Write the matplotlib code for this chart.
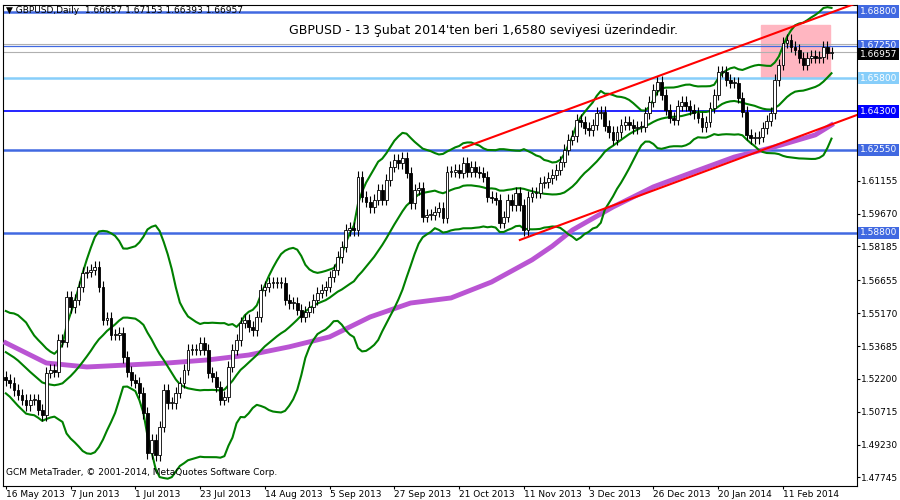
import numpy as np
import pandas as pd
import matplotlib
matplotlib.use("Agg")
from matplotlib import pyplot as plt
from matplotlib.patches import Rectangle

# closes before the visible window (only feed the Bollinger bands)
pre_closes = [1.5420, 1.5440, 1.5400, 1.5430, 1.5460, 1.5450, 1.5470, 1.5440, 1.5400, 1.5380,
              1.5360, 1.5340, 1.5310, 1.5330, 1.5280, 1.5260, 1.5220, 1.5190, 1.5210, 1.5230]

closes = [
    1.5215, 1.5202, 1.5170, 1.5148, 1.5125, 1.5102, 1.5125, 1.5125, 1.5080, 1.5057,
    1.5247, 1.5261, 1.5252, 1.5396, 1.5387, 1.5591, 1.5545, 1.5577, 1.5636, 1.5699,
    1.5704, 1.5713, 1.5726, 1.5636, 1.5487, 1.5496, 1.5419, 1.5419, 1.5428, 1.5319,
    1.5252, 1.5215, 1.5202, 1.5157, 1.5066, 1.4885, 1.4944, 1.4876, 1.5003, 1.5170,
    1.5111, 1.5111, 1.5157, 1.5202, 1.5261, 1.5351, 1.5351, 1.5351, 1.5383, 1.5351,
    1.5247, 1.5229, 1.5184, 1.5125, 1.5139, 1.5274, 1.5351, 1.5396, 1.5473, 1.5487,
    1.5455, 1.5441, 1.5500, 1.5622, 1.5636, 1.5654, 1.5654, 1.5654, 1.5654, 1.5577,
    1.5563, 1.5563, 1.5532, 1.5500, 1.5523, 1.5545, 1.5577, 1.5609, 1.5622, 1.5636,
    1.5681, 1.5713, 1.5771, 1.5817, 1.5893, 1.5902, 1.5893, 1.6133, 1.6043, 1.6020,
    1.5997, 1.6029, 1.6074, 1.6029, 1.6119, 1.6178, 1.6210, 1.6196, 1.6219, 1.6151,
    1.6015, 1.6074, 1.6083, 1.5952, 1.5961, 1.5961, 1.5975, 1.5993, 1.5948, 1.6156,
    1.6156, 1.6165, 1.6151, 1.6196, 1.6156, 1.6178, 1.6156, 1.6151, 1.6133, 1.6043,
    1.6038, 1.6029, 1.5925, 1.5952, 1.6029, 1.6006, 1.6061, 1.6006, 1.5893, 1.6043,
    1.6061, 1.6061, 1.6106, 1.6110, 1.6128, 1.6142, 1.6165, 1.6201, 1.6255, 1.6300,
    1.6318, 1.6391, 1.6382, 1.6354, 1.6345, 1.6368, 1.6422, 1.6427, 1.6364, 1.6336,
    1.6300, 1.6336, 1.6368, 1.6382, 1.6368, 1.6354, 1.6359, 1.6359, 1.6422, 1.6472,
    1.6526, 1.6562, 1.6504, 1.6436, 1.6400, 1.6391, 1.6454, 1.6472, 1.6454, 1.6436,
    1.6422, 1.6400, 1.6359, 1.6382, 1.6445, 1.6504, 1.6608, 1.6608, 1.6571, 1.6558,
    1.6558, 1.6490, 1.6427, 1.6323, 1.6309, 1.6309, 1.6314, 1.6354, 1.6386, 1.6422,
    1.6571, 1.6639, 1.6739, 1.6752, 1.6721, 1.6707, 1.6671, 1.6639, 1.6671, 1.6680,
    1.6671, 1.6675, 1.6721, 1.6693, 1.6696,
]

# slow moving average (purple), read every 10 bars
ma_bars = [0, 10, 20, 30, 40, 50, 60, 70, 80, 90, 100, 110, 120, 130, 135, 140, 150, 160, 170, 180, 190, 200, 204]
ma_vals = [1.5383, 1.5292, 1.5274, 1.5283, 1.5292, 1.5306, 1.5328, 1.5365, 1.5410, 1.5500, 1.5563,
           1.5586, 1.5658, 1.5758, 1.5820, 1.5893, 1.5997, 1.6088, 1.6156, 1.6223, 1.6269, 1.6323, 1.6368]

# trend lines (bar, price)
upper_trend = ([113, 210.3], [1.6264, 1.6919])
lower_trend = ([127, 210.3], [1.5848, 1.6413])

levels = [1.6880, 1.6725, 1.6580, 1.6430, 1.6255, 1.5880]
level_colors = ['#4169e1', '#4169e1', '#87cefa', '#0000ff', '#4169e1', '#4169e1']
level_widths = [1.8, 0.9, 1.8, 1.2, 1.8, 1.8]
last_price = 1.66957

price_ticks = [1.47745, 1.49230, 1.50715, 1.52200, 1.53685, 1.55170, 1.56655, 1.58185, 1.59670, 1.61155]
date_labels = ['16 May 2013', '7 Jun 2013', '1 Jul 2013', '23 Jul 2013', '14 Aug 2013', '5 Sep 2013',
               '27 Sep 2013', '21 Oct 2013', '11 Nov 2013', '3 Dec 2013', '26 Dec 2013', '20 Jan 2014',
               '11 Feb 2014']

all_c = pd.Series(pre_closes + closes)
mid = all_c.rolling(20).mean().iloc[len(pre_closes):].to_numpy()
sd = all_c.rolling(20).std(ddof=0).iloc[len(pre_closes):].to_numpy()
n = len(closes)
x = np.arange(n)
opens = [all_c.iloc[len(pre_closes) + i - 1] for i in range(n)]

fig = plt.figure(figsize=(9, 5), dpi=100)
ax = fig.add_axes([3 / 900, 14 / 500, 854 / 900, 481 / 500])
ax.set_xlim(-0.7, 210.3)
ax.set_ylim(1.4736, 1.6910)

ax.add_patch(Rectangle((186.5, 1.6580), 17.2, 0.0240, color='#ffb6c1', zorder=1))
for lv, c, w in zip(levels, level_colors, level_widths):
    ax.axhline(lv, color=c, lw=w, zorder=2)
ax.axhline(last_price, color='#b0b0b0', lw=0.8, zorder=2)
ax.axhline(1.6735, color='#b0b0b0', lw=0.8, zorder=2)

for i in range(n):
    o, c = opens[i], closes[i]
    hi, lo = max(o, c) + 0.0025, min(o, c) - 0.0025
    ax.vlines(i, lo, hi, color='black', lw=0.8, zorder=4)
    ax.add_patch(Rectangle((i - 0.35, min(o, c)), 0.7, max(abs(c - o), 0.0003),
                           facecolor='white' if c >= o else 'black', edgecolor='black', lw=0.6, zorder=5))

ax.plot(ma_bars, ma_vals, color='#ba55d3', lw=3.5, zorder=3)
for band in (mid, mid + 2 * sd, mid - 2 * sd):
    ax.plot(x, band, color='#008000', lw=1.5, zorder=3)
ax.plot(*upper_trend, color='red', lw=1.5, zorder=6)
ax.plot(*lower_trend, color='red', lw=1.5, zorder=6)

ax.yaxis.tick_right()
ax.set_yticks(price_ticks)
ax.set_yticklabels([f'{p:.5f}' for p in price_ticks], fontsize=6.5)
ax.set_xticks(np.arange(0, 16 * len(date_labels), 16))
ax.set_xticklabels(date_labels, fontsize=6.5, ha='left')
ax.tick_params(length=2, pad=1)
for s in ax.spines.values():
    s.set_linewidth(0.8)

box_colors = {1.6880: '#4169e1', 1.6725: '#4169e1', 1.6580: '#87cefa', 1.6430: '#0000ff',
              1.6255: '#4169e1', 1.5880: '#4169e1'}
for lv, c in box_colors.items():
    ax.text(1.003, lv, f'{lv:.5f}', transform=ax.get_yaxis_transform(), fontsize=6.5, color='white',
            va='center', ha='left', bbox=dict(boxstyle='square,pad=0.2', fc=c, ec='none'))
ax.text(1.003, last_price - 0.0008, f'{last_price:.5f}', transform=ax.get_yaxis_transform(), fontsize=6.5,
        color='white', va='center', ha='left', bbox=dict(boxstyle='square,pad=0.2', fc='black', ec='none'))

ax.text(0.004, 0.997, '\u25bc GBPUSD,Daily  1.66657 1.67153 1.66393 1.66957', transform=ax.transAxes,
        fontsize=6.5, va='top', ha='left')
ax.text(0.335, 0.948, "GBPUSD - 13 Şubat 2014'ten beri 1,6580 seviyesi üzerindedir.",
        transform=ax.transAxes, fontsize=9, va='center', ha='left')
ax.text(0.004, 0.018, 'GCM MetaTrader, © 2001-2014, MetaQuotes Software Corp.', transform=ax.transAxes,
        fontsize=6.5, va='bottom', ha='left')

fig.savefig('out.png', dpi=100)
